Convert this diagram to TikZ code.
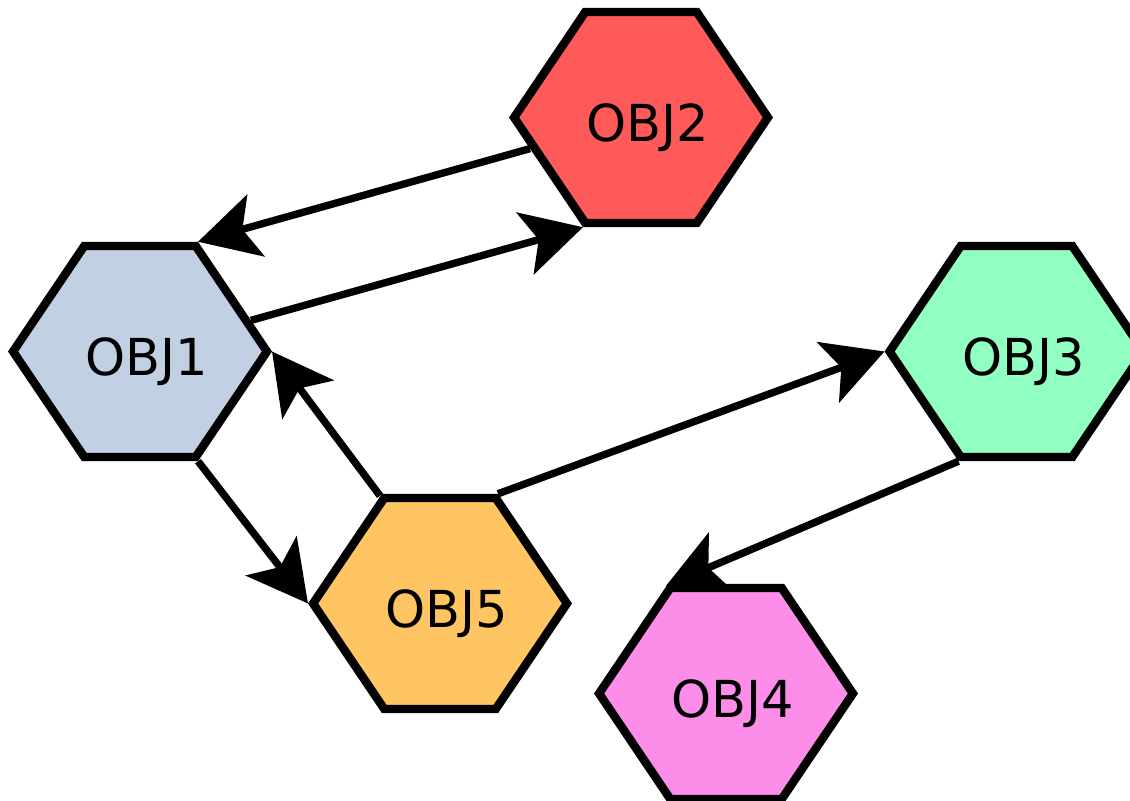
\documentclass[tikz,border=0pt]{standalone}
\usepackage{fontspec}
\setmainfont{DejaVu Sans}
\usetikzlibrary{arrows.meta, shapes.symbols}

\definecolor{objblue}{HTML}{C2D0E4}
\definecolor{objred}{HTML}{FF5A5A}
\definecolor{objgreen}{HTML}{92FFC2}
\definecolor{objpink}{HTML}{FC8EEA}
\definecolor{objorange}{HTML}{FFC562}

\begin{document}
\begin{tikzpicture}[obj/.style={signal, signal to=east and west, signal pointer angle=112, draw=black, line width=2.4pt, minimum height=2.11cm, inner xsep=-0.55mm, inner ysep=0pt, text height=4.8mm, text depth=0pt, execute at begin node=\hspace*{0.7mm}, execute at end node=\hspace*{-0.7mm}, font=\fontsize{14.5}{17}\selectfont},link/.style={-{Stealth[length=6mm, width=6.4mm, inset=1.4mm]}, line width=2.1pt}]
  \useasboundingbox (0,0) rectangle (11.3,-8.01);
  \clip (0,0) rectangle (11.3,-8.01);

  \node[obj, fill=objblue] (o1) at (1.40,-3.515) {OBJ1};
  \node[obj, fill=objred] (o2) at (6.41,-1.175) {OBJ2};
  \node[obj, fill=objgreen] (o3) at (10.165,-3.515) {OBJ3};
  \node[obj, fill=objpink] (o4) at (7.26,-6.935) {OBJ4};
  \node[obj, fill=objorange] (o5) at (4.40,-6.035) {OBJ5};

  \draw[link] (o2) -- (o1.north east);
  \draw[link] (o1) -- (o2.south west);
  \draw[link] (o5.north west) -- (o1.east);
  \draw[link] (o1.south east) -- (o5.west);
  \draw[link] (o5.north east) -- (o3.west);
  \draw[link] (o3.south west) -- (o4.north west);
\end{tikzpicture}
\end{document}
